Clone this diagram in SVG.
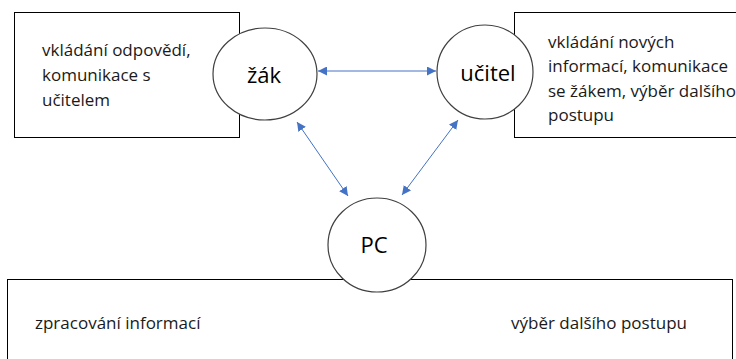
<svg xmlns="http://www.w3.org/2000/svg" width="736" height="359" viewBox="0 0 736 359">
  <style>
    .box { fill: #ffffff; stroke: #000000; stroke-width: 1; }
    .node { fill: #ffffff; stroke: #404040; stroke-width: 1.2; }
    .txt { font-family: "Open Sans", "Noto Sans", sans-serif; font-size: 17px; fill: #1a1a1a; }
    .lbl { font-family: "Open Sans", "Noto Sans", sans-serif; font-size: 22px; fill: #000000; text-anchor: middle; }
    .link { stroke: #4472C4; stroke-width: 1; fill: none; marker-start: url(#head); marker-end: url(#head); }
  </style>
  <defs>
    <marker id="head" viewBox="0 0 10 10" refX="10" refY="5" markerWidth="9" markerHeight="9" orient="auto-start-reverse" markerUnits="userSpaceOnUse">
      <path d="M0,0 L10,5 L0,10 Z" fill="#4472C4"/>
    </marker>
  </defs>
  <rect width="736" height="359" fill="#ffffff"/>

  <!-- description boxes -->
  <g id="box-zak">
    <rect class="box" x="14.5" y="12.5" width="225" height="125"/>
    <text class="txt" x="42" y="56">vkládání odpovědí,</text>
    <text class="txt" x="42" y="81">komunikace s</text>
    <text class="txt" x="42" y="106">učitelem</text>
  </g>
  <g id="box-ucitel">
    <rect class="box" x="514.5" y="12.5" width="230" height="125"/>
    <text class="txt" x="548" y="48">vkládání nových</text>
    <text class="txt" x="548" y="72">informací, komunikace</text>
    <text class="txt" x="548" y="97">se žákem, výběr dalšího</text>
    <text class="txt" x="548" y="121">postupu</text>
  </g>
  <g id="box-pc">
    <rect class="box" x="7.5" y="279.5" width="725" height="100"/>
    <text class="txt" x="35" y="329">zpracování informací</text>
    <text class="txt" x="511" y="329">výběr dalšího postupu</text>
  </g>

  <!-- actors -->
  <g id="zak">
    <ellipse class="node" cx="265" cy="74" rx="52" ry="46"/>
    <text class="lbl" x="264" y="83">žák</text>
  </g>
  <g id="ucitel">
    <ellipse class="node" cx="485" cy="72" rx="48" ry="47"/>
    <text class="lbl" x="488" y="81">učitel</text>
  </g>
  <g id="pc">
    <ellipse class="node" cx="377" cy="245" rx="49" ry="47"/>
    <text class="lbl" x="374" y="253">PC</text>
  </g>

  <!-- connectors -->
  <g id="connectors">
    <line class="link" x1="318" y1="71" x2="436" y2="71"/>
    <line class="link" x1="297" y1="122" x2="348" y2="196"/>
    <line class="link" x1="458" y1="120" x2="402" y2="195"/>
  </g>
</svg>
